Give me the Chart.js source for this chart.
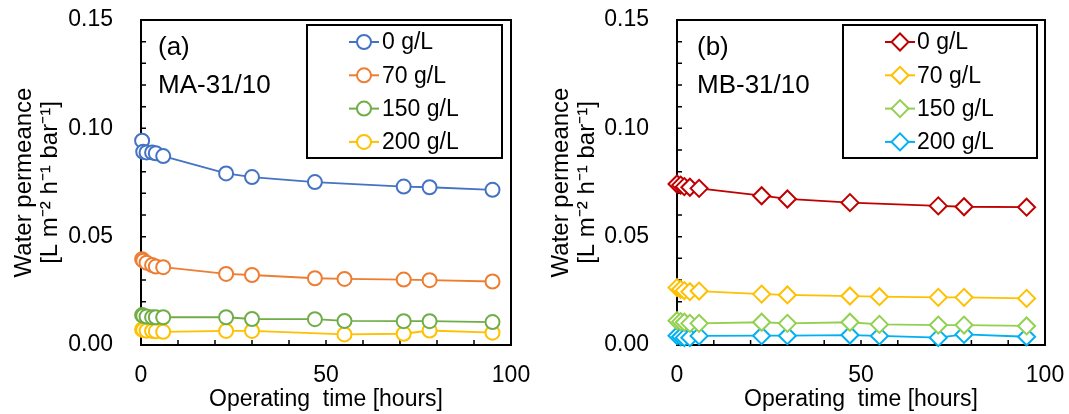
<!DOCTYPE html>
<html><head><meta charset="utf-8">
<script src="https://cdn.jsdelivr.net/npm/chart.js@4"></script>
<style>
html,body{margin:0;padding:0;background:#fff;}
#wrap{position:relative;width:1069px;height:414px;}
canvas{position:absolute;top:0;}
</style></head>
<body><div id="wrap">
<canvas id="ca" width="534" height="414" style="left:0"></canvas>
<canvas id="cb" width="535" height="414" style="left:534px"></canvas>
</div>
<script>
// ---- data ----
const timeA = [0.3, 0.6, 1.5, 3, 4, 6, 23, 30, 47, 55, 71, 78, 95];
const a0   = [0.0943, 0.0892, 0.0889, 0.0889, 0.0885, 0.0872, 0.0792, 0.0775, 0.0752, null, 0.0731, 0.0728, 0.0716];
const a70  = [0.0396, 0.0389, 0.0380, 0.0369, 0.0362, 0.0359, 0.0328, 0.0323, 0.0308, 0.0305, 0.0302, 0.0299, 0.0293];
const a150 = [0.0138, 0.0135, 0.0131, 0.0128, 0.0128, 0.0128, 0.0128, 0.0120, 0.0119, 0.0111, 0.0110, 0.0110, 0.0106];
const a200 = [0.0072, 0.0069, 0.0066, 0.0065, 0.0063, 0.0061, 0.0065, 0.0065, null, 0.0049, 0.0052, 0.0067, 0.0057];

const timeB = [0, 1, 2, 3.5, 6, 23, 30, 47, 55, 71, 78, 95];
const b0   = [0.0743, 0.0738, 0.0731, 0.0728, 0.0723, 0.0689, 0.0674, 0.0657, null, 0.0642, 0.0638, 0.0636];
const b70  = [0.0265, 0.0257, 0.0251, 0.0246, 0.0249, 0.0235, 0.0231, 0.0226, 0.0223, 0.0220, 0.0220, 0.0215];
const b150 = [0.0112, 0.0108, 0.0105, 0.0100, 0.0100, 0.0105, 0.0100, 0.0105, 0.0095, 0.0092, 0.0092, 0.0088];
const b200 = [0.0043, 0.0038, 0.0034, 0.0034, 0.0042, 0.0043, 0.0043, 0.0046, 0.0042, 0.0034, 0.0049, 0.0038];

const seriesLabels = ['0 g/L', '70 g/L', '150 g/L', '200 g/L'];
const xTickLabels = [0, 50, 100];
const yTickLabels = [0, 0.05, 0.10, 0.15];
const colorsA = ['#4472C4', '#ED7D31', '#70AD47', '#FFC000'];
const colorsB = ['#C00000', '#FFC000', '#92D050', '#00B0F0'];

const FONT = '"Liberation Sans", Arial, sans-serif';

function pts(times, vals) {
  const out = [];
  times.forEach((t, i) => { if (vals[i] !== null) out.push({x: t, y: vals[i]}); });
  return out;
}

const framePlugin = {
  id: 'frame',
  beforeDatasetsDraw(chart) {
    const {ctx, chartArea: a, scales: {x, y}} = chart;
    ctx.save();
    ctx.strokeStyle = '#000';
    ctx.lineWidth = 1.5;
    ctx.beginPath();
    x.ticks.forEach(t => {
      const px = x.getPixelForValue(t.value);
      if (t.value > 0 && t.value < 100) { ctx.moveTo(px, a.bottom); ctx.lineTo(px, a.bottom - 5); }
    });
    y.ticks.forEach(t => {
      const py = y.getPixelForValue(t.value);
      if (t.value > 0.0001 && t.value < 0.1499) { ctx.moveTo(a.left, py); ctx.lineTo(a.left + 5, py); }
    });
    ctx.stroke();
    ctx.lineWidth = 2;
    ctx.strokeRect(a.left, a.top, a.right - a.left, a.bottom - a.top);
    ctx.restore();
  },
  afterDraw(chart) {
    const o = chart.options.plugins.frame;
    const {ctx} = chart;
    ctx.save();
    // panel labels
    ctx.fillStyle = '#000';
    ctx.font = '26px ' + FONT;
    ctx.textBaseline = 'middle';
    ctx.textAlign = 'left';
    ctx.fillText(o.panel, o.panelX, 48);
    ctx.fillText(o.name, o.panelX, 86);
    // legend
    const L = o.legend;
    ctx.lineWidth = 2;
    ctx.strokeStyle = '#000';
    ctx.strokeRect(L.x, L.y, L.w, L.h);
    ctx.font = '23px ' + FONT;
    chart.data.datasets.forEach((ds, i) => {
      const cy = L.y + 17 + i * 33.3;
      ctx.strokeStyle = ds.borderColor;
      ctx.lineWidth = 2;
      ctx.beginPath();
      ctx.moveTo(L.lx1, cy); ctx.lineTo(L.lx2, cy);
      ctx.stroke();
      ctx.fillStyle = '#fff';
      Chart.helpers.drawPoint(ctx, {pointStyle: ds.pointStyle, radius: ds.pointRadius, rotation: 0, borderWidth: 2}, (L.lx1 + L.lx2) / 2, cy);
      ctx.fillStyle = '#000';
      ctx.fillText(ds.label, L.tx, cy + 1);
    });
    ctx.restore();
  }
};

function makeChart(id, times, series, colors, style, radius, cfg) {
  const datasets = series.map((vals, i) => ({
    label: seriesLabels[i],
    data: pts(times, vals),
    borderColor: colors[i],
    backgroundColor: '#fff',
    pointBackgroundColor: '#fff',
    pointBorderColor: colors[i],
    pointStyle: style,
    pointRadius: radius,
    pointBorderWidth: 2,
    borderWidth: 1.8,
    clip: false,
    spanGaps: true
  }));
  return new Chart(document.getElementById(id), {
    type: 'line',
    data: {datasets},
    plugins: [framePlugin],
    options: {
      responsive: false,
      animation: false,
      layout: {autoPadding: false, padding: {left: 0, right: cfg.padRight, top: 20, bottom: 0}},
      plugins: {
        legend: {display: false},
        tooltip: {enabled: false},
        frame: cfg.frame
      },
      scales: {
        x: {
          type: 'linear', min: 0, max: 100,
          grid: {display: false, drawTicks: false},
          border: {display: false},
          ticks: {
            stepSize: 10, autoSkip: false, maxRotation: 0, padding: 17,
            color: '#000', font: {family: FONT, size: 23},
            callback: v => xTickLabels.includes(v) ? String(v) : ''
          },
          title: {display: true, text: 'Operating  time [hours]', color: '#000',
                  font: {family: FONT, size: 23}, padding: {top: 0, bottom: 1}},
          afterFit: s => { s.height = 69; s.paddingLeft = 0; s.paddingRight = 0; }
        },
        y: {
          type: 'linear', min: 0, max: 0.15,
          grid: {display: false, drawTicks: false},
          border: {display: false},
          ticks: {
            stepSize: 0.01, autoSkip: false, padding: 28,
            color: '#000', font: {family: FONT, size: 23},
            callback: v => yTickLabels.some(t => Math.abs(t - v) < 1e-6) ? v.toFixed(2) : ''
          },
          title: {display: true, text: ['Water permeance', '[L m\u207B\u00B2 h\u207B\u00B9 bar\u207B\u00B9]'],
                  color: '#000', font: {family: FONT, size: 24, lineHeight: 1.1},
                  padding: {top: cfg.titlePad, bottom: 0}},
          afterFit: s => { s.width = cfg.yWidth; s.paddingTop = 0; s.paddingBottom = 0; }
        }
      }
    }
  });
}

makeChart('ca', timeA, [a0, a70, a150, a200], colorsA, 'circle', 7, {
  padRight: 23, yWidth: 141, titlePad: 11,
  frame: {panel: '(a)', name: 'MA-31/10', panelX: 158,
          legend: {x: 307, y: 25, w: 195, h: 133, lx1: 349, lx2: 379, tx: 382}}
});
makeChart('cb', timeB, [b0, b70, b150, b200], colorsB, 'rectRot', 8.5, {
  padRight: 24, yWidth: 143, titlePad: 14,
  frame: {panel: '(b)', name: 'MB-31/10', panelX: 163,
          legend: {x: 309, y: 25, w: 194, h: 133, lx1: 351, lx2: 381, tx: 383}}
});
</script>
</body></html>
